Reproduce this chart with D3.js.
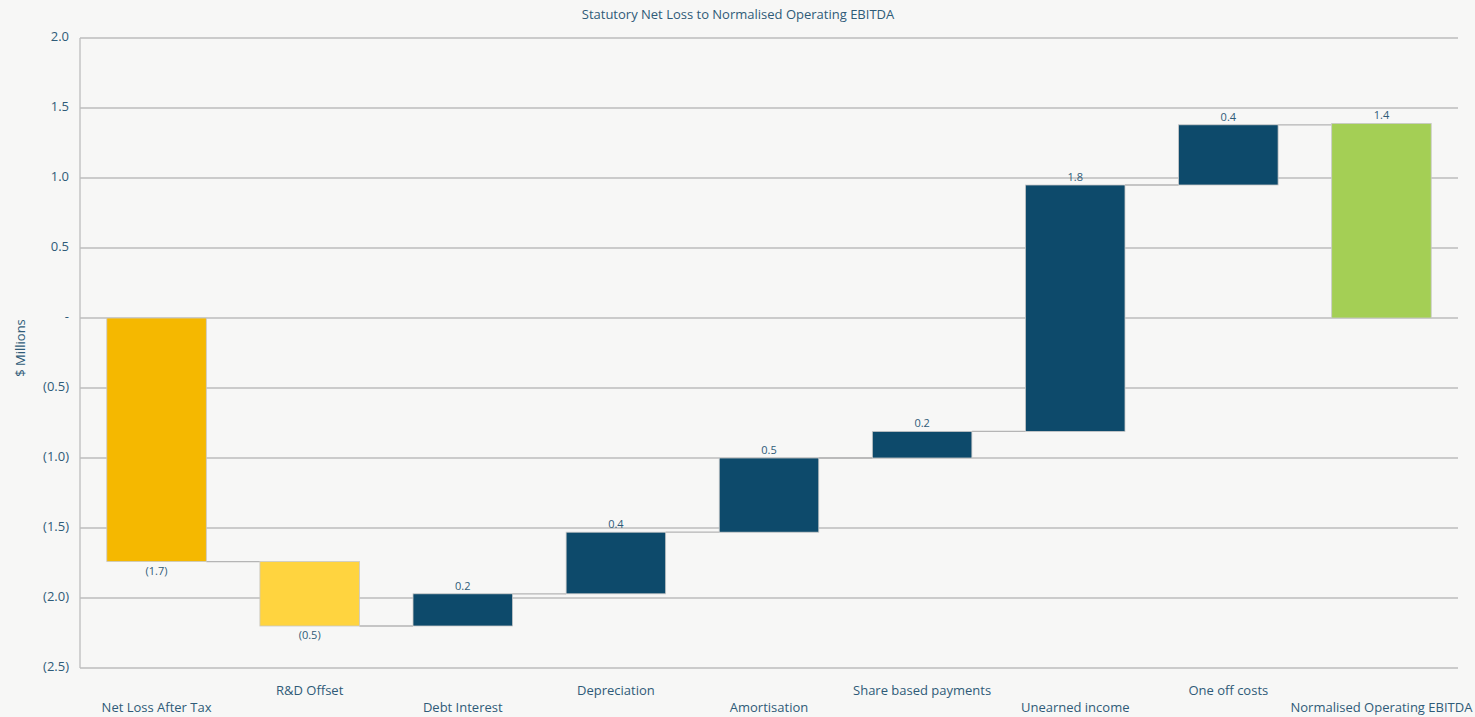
<!DOCTYPE html>
<html>
<head>
<meta charset="utf-8">
<script src="https://cdn.jsdelivr.net/npm/d3@7"></script>
<style>
  body { margin: 0; background: #f7f7f6; }
  text { font-family: "Open Sans", "Noto Sans", sans-serif; }
</style>
</head>
<body>
<script>
var categories = ["Net Loss After Tax", "R&D Offset", "Debt Interest", "Depreciation", "Amortisation",
                  "Share based payments", "Unearned income", "One off costs", "Normalised Operating EBITDA"];
var deltas = [-1.74, -0.46, 0.23, 0.44, 0.53, 0.19, 1.76, 0.43];
var totalValue = 1.39;
var barColors = ["#f5b800", "#ffd43f", "#0d4a6b", "#0d4a6b", "#0d4a6b", "#0d4a6b", "#0d4a6b", "#0d4a6b", "#a4cf55"];
var yTicks = [2.0, 1.5, 1.0, 0.5, 0, -0.5, -1.0, -1.5, -2.0, -2.5];

var width = 1475, height = 717;
var mLeft = 80, mRight = 1458, mTop = 38, mBottom = 668;
var textColor = "#2f5b78";

// build the waterfall steps
var steps = [];
var run = 0;
deltas.forEach(function(d, i) {
      steps.push({name: categories[i], start: run, end: run + d, value: d, color: barColors[i]});
      run += d;
});
steps.push({name: categories[8], start: 0, end: totalValue, value: totalValue, color: barColors[8]});

var svg = d3.select("body").append("svg").attr("width", width).attr("height", height);

var x = d3.scaleBand().domain(categories).range([mLeft, mRight]).paddingInner(0.35).paddingOuter(0.175);
var y = d3.scaleLinear().domain([-2.5, 2.0]).range([mBottom, mTop]);

function fmt(v) {
      var s = Math.abs(v).toFixed(1);
      return v < 0 ? "(" + s + ")" : s;
}

// gridlines
svg.selectAll("line.grid")
      .data(yTicks)
      .enter().append("line")
      .attr("class", "grid")
      .attr("x1", mLeft).attr("x2", mRight)
      .attr("y1", function(d){ return y(d); })
      .attr("y2", function(d){ return y(d); })
      .attr("stroke", "#bdbdbd")
      .attr("stroke-width", 1.3);

svg.append("line")
      .attr("x1", mLeft).attr("x2", mLeft)
      .attr("y1", mTop).attr("y2", mBottom)
      .attr("stroke", "#bdbdbd")
      .attr("stroke-width", 1.3);

// y tick labels
svg.selectAll("text.ytick")
      .data(yTicks)
      .enter().append("text")
      .attr("class", "ytick")
      .attr("x", 69)
      .attr("y", function(d){ return y(d); })
      .attr("text-anchor", "end")
      .attr("dominant-baseline", "middle")
      .attr("font-size", 13)
      .attr("fill", textColor)
      .text(function(d){ return d === 0 ? "-" : fmt(d); });

svg.append("text")
      .attr("transform", "translate(22,348) rotate(-90)")
      .attr("text-anchor", "middle")
      .attr("dominant-baseline", "middle")
      .attr("font-size", 13)
      .attr("fill", textColor)
      .text("$ Millions");

svg.append("text")
      .attr("x", 738).attr("y", 19)
      .attr("text-anchor", "middle")
      .attr("font-size", 13)
      .attr("fill", textColor)
      .text("Statutory Net Loss to Normalised Operating EBITDA");

// connectors
svg.selectAll("line.conn")
      .data(steps.slice(0, 8))
      .enter().append("line")
      .attr("class", "conn")
      .attr("x1", function(d){ return x(d.name) + x.bandwidth(); })
      .attr("x2", function(d, i){ return x(categories[i + 1]); })
      .attr("y1", function(d){ return y(d.end); })
      .attr("y2", function(d){ return y(d.end); })
      .attr("stroke", "#b5b5b5")
      .attr("stroke-width", 1.3);

// bars
svg.selectAll("rect")
      .data(steps)
      .enter().append("rect")
      .attr("x", function(d){ return x(d.name); })
      .attr("y", function(d){ return y(Math.max(d.start, d.end)); })
      .attr("width", x.bandwidth())
      .attr("height", function(d){ return Math.abs(y(d.start) - y(d.end)); })
      .attr("fill", function(d){ return d.color; })
      .attr("stroke", "#c8c8c8")
      .attr("stroke-width", 0.8);

// value labels
svg.selectAll("text.val")
      .data(steps)
      .enter().append("text")
      .attr("class", "val")
      .attr("x", function(d){ return x(d.name) + x.bandwidth() / 2; })
      .attr("y", function(d){
            return d.value < 0 ? y(Math.min(d.start, d.end)) + 13 : y(Math.max(d.start, d.end)) - 4;
      })
      .attr("text-anchor", "middle")
      .attr("font-size", 11)
      .attr("fill", textColor)
      .text(function(d){ return fmt(d.value); });

// category labels, staggered
svg.selectAll("text.cat")
      .data(categories)
      .enter().append("text")
      .attr("class", "cat")
      .attr("x", function(d){ return x(d) + x.bandwidth() / 2; })
      .attr("y", function(d, i){ return i % 2 === 0 ? 712 : 695; })
      .attr("text-anchor", "middle")
      .attr("font-size", 13)
      .attr("fill", textColor)
      .text(function(d){ return d; });
</script>
</body>
</html>
